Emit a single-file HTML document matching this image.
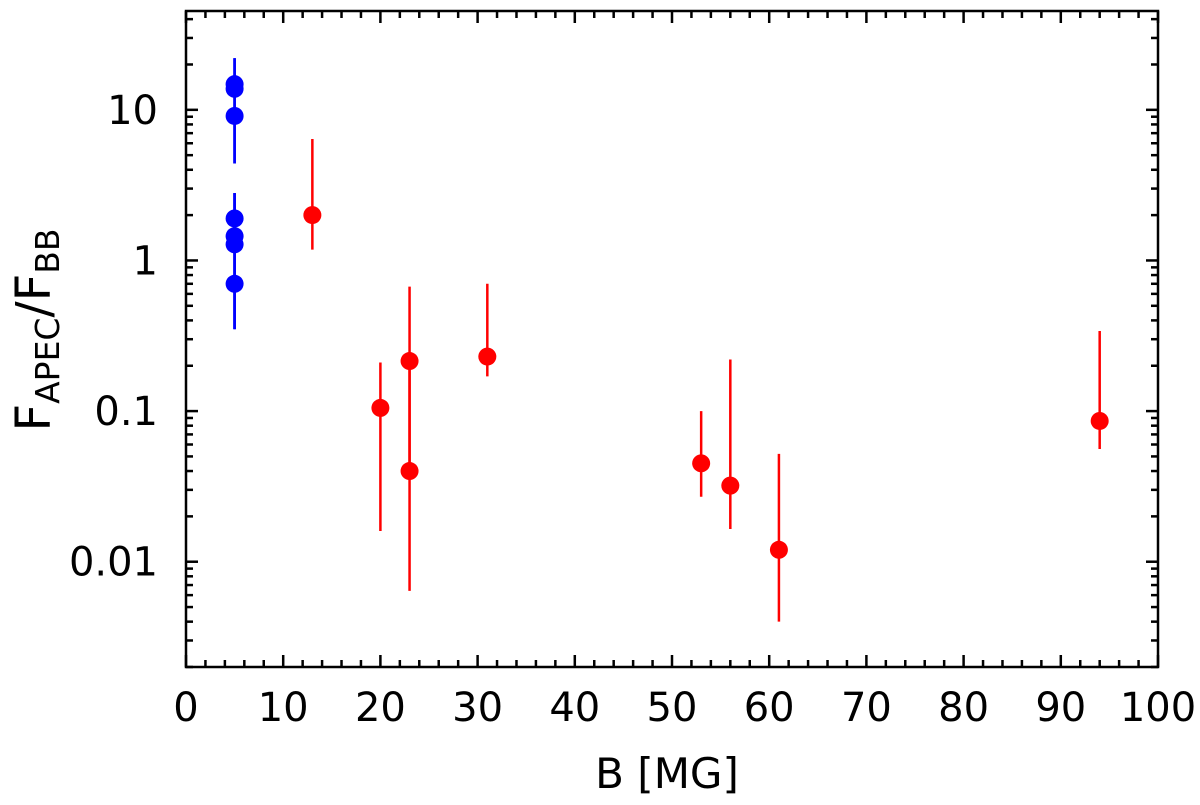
<!DOCTYPE html>
<html><head><meta charset="utf-8"><style>
body{margin:0;background:#fff;}
svg text{font-family:"DejaVu Sans","Liberation Sans",sans-serif;fill:#000;}
</style></head><body>
<svg id="chart" width="1200" height="800" xmlns="http://www.w3.org/2000/svg">
<g id="axes"></g>
<g id="marks"></g>
<text x="667" y="788" font-size="42" text-anchor="middle">B [MG]</text>
<text transform="translate(50,330) rotate(-90)" font-size="48" text-anchor="middle">F<tspan font-size="33" dy="9">APEC</tspan><tspan font-size="48" dy="-9">/F</tspan><tspan font-size="33" dy="9">BB</tspan></text>
</svg>
<script>
const xTicks=[0,10,20,30,40,50,60,70,80,90,100];
const yTicks=[0.01,0.1,1,10];
const yTickLabels=["0.01","0.1","1","10"];
const blueX=[5,5,5,5,5,5,5];
const blueY=[14.8,13.8,9.1,1.9,1.45,1.28,0.70];
const blueLo=[4.4,4.4,4.4,0.35,0.35,0.35,0.35];
const blueHi=[22,22,22,2.8,2.8,2.8,2.8];
const redX=[13,20,23,23,31,53,56,61,94];
const redY=[2.0,0.105,0.215,0.04,0.23,0.045,0.032,0.012,0.086];
const redLo=[1.18,0.016,0.04,0.0064,0.17,0.027,0.0165,0.004,0.056];
const redHi=[6.4,0.21,0.67,0.215,0.7,0.1,0.22,0.052,0.34];

const L=186,R=1158,T=11,B=667;
const xMin=0,xMax=100,yMin=Math.log10(0.002),yMax=Math.log10(45.3);
function sx(v){return L+(v-xMin)/(xMax-xMin)*(R-L);}
function sy(v){return B-(Math.log10(v)-yMin)/(yMax-yMin)*(B-T);}
const NS="http://www.w3.org/2000/svg";
function mk(tag,attrs,parent){const e=document.createElementNS(NS,tag);for(const k in attrs)e.setAttribute(k,attrs[k]);parent.appendChild(e);return e;}
const ax=document.getElementById('axes'),mg=document.getElementById('marks');
const frame=mk('rect',{x:L,y:T,width:R-L,height:B-T,fill:'none',stroke:'#000','stroke-width':2.5},ax);


for(let v=0;v<=100;v+=2){
  const major=v%10===0,len=major?12:7,x=sx(v);
  const t1=mk('line',{x1:x,x2:x,y1:B,y2:B-len,stroke:'#000','stroke-width':2.5},ax);
  
  
  const t2=mk('line',{x1:x,x2:x,y1:T,y2:T+len,stroke:'#000','stroke-width':2.5},ax);
  
  
}
xTicks.forEach(v=>{
  const t=mk('text',{x:sx(v),y:721,'font-size':40,'text-anchor':'middle'},ax);
  t.textContent=v;
  
  
});
for(let d=-3;d<=1;d++){
  for(let m=1;m<=9;m++){
    const v=m*Math.pow(10,d);
    if(v<0.002||v>45.3)continue;
    const y=sy(v),len=m===1?12:7;
    const t1=mk('line',{x1:L,x2:L+len,y1:y,y2:y,stroke:'#000','stroke-width':2.5},ax);
    
    
    const t2=mk('line',{x1:R,x2:R-len,y1:y,y2:y,stroke:'#000','stroke-width':2.5},ax);
    
    
  }
}
yTicks.forEach((v,i)=>{
  const t=mk('text',{x:158,y:sy(v)+14,'font-size':40,'text-anchor':'end'},ax);
  t.textContent=yTickLabels[i];
  
  
});
function series(xs,ys,lo,hi,color,name){
  ys.forEach((v,i)=>{
    const x=sx(xs[i]);
    const e=mk('line',{x1:x,x2:x,y1:sy(hi[i]),y2:sy(lo[i]),stroke:color,'stroke-width':2.5},mg);
    
    
  });
  ys.forEach((v,i)=>{
    const x=sx(xs[i]);
    const c=mk('circle',{cx:x,cy:sy(v),r:9,fill:color},mg);
    
    
  });
}
series(blueX,blueY,blueLo,blueHi,'#0000ff','blue');
series(redX,redY,redLo,redHi,'#ff0000','red');
</script>
</body></html>
